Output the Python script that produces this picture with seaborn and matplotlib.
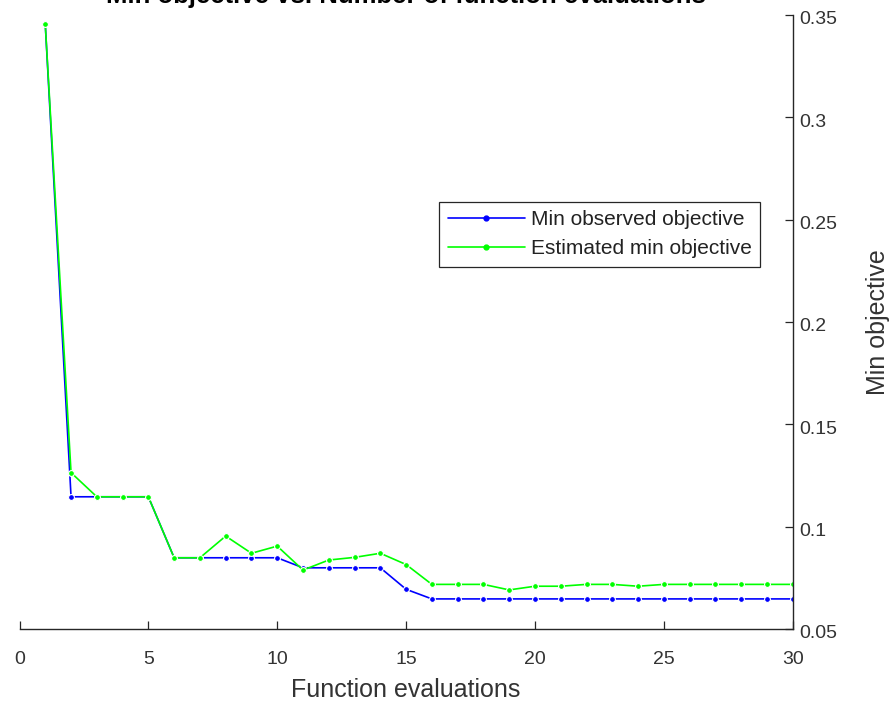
import numpy as np
import pandas as pd
import matplotlib
matplotlib.use("Agg")
import matplotlib.pyplot as plt
import matplotlib.transforms as mtransforms
import seaborn as sns
from matplotlib.lines import Line2D

evals = list(range(1, 31))
min_observed = [0.3454, 0.1146, 0.1146, 0.1146, 0.1146, 0.0848, 0.0848, 0.0848, 0.0848, 0.0848,
                0.0799, 0.0799, 0.0799, 0.0799, 0.0694, 0.0647, 0.0647, 0.0647, 0.0647, 0.0647,
                0.0647, 0.0647, 0.0647, 0.0647, 0.0647, 0.0647, 0.0647, 0.0647, 0.0647, 0.0647]
est_min = [0.3454, 0.1264, 0.1146, 0.1146, 0.1146, 0.0848, 0.0848, 0.0954, 0.0870, 0.0905,
           0.0788, 0.0837, 0.0850, 0.0870, 0.0815, 0.0718, 0.0718, 0.0718, 0.0691, 0.0709,
           0.0709, 0.0718, 0.0718, 0.0709, 0.0718, 0.0718, 0.0718, 0.0718, 0.0718, 0.0718]
series_names = ["Min observed objective", "Estimated min objective"]
series_colors = ["#0000ff", "#00ff00"]
x_ticks = [0, 5, 10, 15, 20, 25, 30]
y_ticks = [0.05, 0.1, 0.15, 0.2, 0.25, 0.3, 0.35]
y_tick_labels = ["0.05", "0.1", "0.15", "0.2", "0.25", "0.3", "0.35"]

df = pd.DataFrame({
    "Function evaluations": evals * 2,
    "Min objective": min_observed + est_min,
    "series": [series_names[0]] * len(evals) + [series_names[1]] * len(evals),
})

sns.set_theme(style="white")
plt.rcParams['font.family'] = ['Liberation Sans', 'DejaVu Sans']

fig = plt.figure(figsize=(8.89, 7.09), dpi=100)
ax = fig.add_axes([19.5 / 889, 1 - 629 / 709, (792.7 - 19.5) / 889, (629 - 15) / 709])

sns.lineplot(data=df, x="Function evaluations", y="Min objective", hue="series",
             palette=dict(zip(series_names, series_colors)), marker="o", markersize=4.2,
             markeredgewidth=0.8, linewidth=1.2, ax=ax, legend=False)

ax.set_xlim(0, 30)
ax.set_ylim(0.05, 0.35)
ax.set_xticks(x_ticks)
ax.set_xticklabels([str(t) for t in x_ticks])
ax.set_yticks(y_ticks)
ax.set_yticklabels(y_tick_labels)
ax.yaxis.tick_right()
ax.yaxis.set_label_position("right")

for s in ["top", "left"]:
    ax.spines[s].set_visible(False)
for s in ["bottom", "right"]:
    ax.spines[s].set_visible(True)
    ax.spines[s].set_color("#262626")
    ax.spines[s].set_linewidth(1.0)

ax.tick_params(axis="both", direction="in", length=6, width=0.9, color="#262626",
               labelsize=14, labelcolor="#333333")
ax.tick_params(axis="x", pad=16, bottom=True)
ax.tick_params(axis="y", pad=5, right=True, left=False)

# nudge y tick labels slightly downward as in the reference
offset = mtransforms.ScaledTranslation(0, -3 / 100, fig.dpi_scale_trans)
for lbl in ax.get_yticklabels():
    lbl.set_transform(lbl.get_transform() + offset)

ax.set_xlabel("Function evaluations", fontsize=18, color="#333333")
ax.set_ylabel("Min objective", fontsize=18, color="#333333")
ax.xaxis.set_label_coords(0.5, -(690 - 629) / 614, transform=ax.transAxes)
ax.xaxis.label.set_va("center")
ax.yaxis.set_label_coords((878 - 19.5) / 773.2, 0.5, transform=ax.transAxes)
ax.yaxis.label.set_va("center")

handles = [Line2D([0], [0], color=c, marker="o", markersize=3.5, linewidth=1.2) for c in series_colors]
leg = ax.legend(handles, series_names, loc="upper right", bbox_to_anchor=(0.958, 0.696),
                fontsize=15, frameon=True, fancybox=False, framealpha=1,
                edgecolor="#262626", handlelength=3.7, borderpad=0.4, labelspacing=0.5,
                handletextpad=0.3, borderaxespad=0)
leg.get_frame().set_linewidth(0.9)
for t in leg.get_texts():
    t.set_color("#222222")

fig.text((19.5 + 792.7) / 2 / 889, 1 - 3 / 709, "Min objective vs. Number of function evaluations",
         ha="center", va="baseline", fontsize=18.5, fontweight="bold", color="black")

fig.savefig("out.png", dpi=100)
